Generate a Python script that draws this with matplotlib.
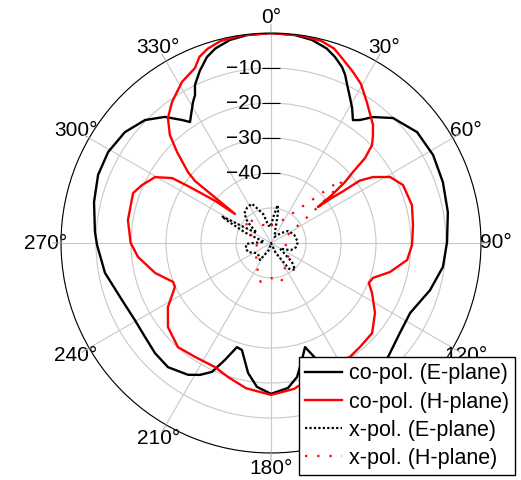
import numpy as np
import matplotlib.pyplot as plt

plt.rcParams['font.family'] = ['Liberation Sans', 'DejaVu Sans']

# co-polar, E-plane (deg, dB)
e_co_theta = [0, 6.6, 11.4, 16, 19, 22, 23.8, 25.5, 28.6, 31, 33.7, 35.9, 39.0, 44.3,
              52.8, 61.5, 70.5, 80.1, 89.7, 97.9, 106.5, 116.7, 124.9, 134.3, 140, 148,
              152, 155.4, 158.5, 161.9, 165.2, 169, 173.3, 180, 185.6, 190, 195.2, 198.1,
              201.5, 204.6, 208.3, 212.2, 219.7, 226.5, 233.3, 240.5, 249.1, 259.8,
              269.3, 273.6, 283.0, 291.5, 299.2, 307.2, 314.3, 319.9, 324.1, 326.2,
              331.0, 332.8, 334.3, 337.5, 341, 344, 348.6, 353.4, 360]
e_co_db = [0, -0.2, -0.8, -2.2, -3.8, -5.8, -7.5, -9.6, -12.8, -15, -17.8, -16.6, -13.7, -10.1,
           -7.6, -7.3, -7.9, -8.7, -9.7, -10.4, -12.6, -15.5, -15.1, -13.3, -13.9, -15.5,
           -17.2, -19.5, -24.1, -28.7, -25.4, -21, -18.3, -16.9, -18.7, -22.3, -28.3, -28.7,
           -24.1, -19.5, -17.2, -15.5, -13.9, -14.3, -15.1, -15.3, -14.4, -11.8,
           -10.3, -9.6, -8.1, -6.9, -6.7, -7.6, -9.7, -12.9, -16.6, -18.4,
           -14.0, -12.5, -9.9, -6.8, -3.8, -2.2, -0.8, -0.2, 0]

# co-polar, H-plane (deg, dB)
h_co_theta = [0, 8, 14, 18, 21, 25.6, 29.5, 34.2, 40.8, 43.5, 45.9, 47.9, 49.1, 50.5,
              51.8, 52.5, 53.5, 54.3, 54.9, 57.1, 61.0, 66.3, 74.9, 82.8, 90.8, 97.1,
              103.7, 108.9, 112.2, 116.3, 123.9, 131.7, 139.4, 145.3, 153, 160, 166,
              171, 180, 189.8, 197.8, 204.3, 213.5, 221.8, 230.8, 238.1, 245.4, 248.3,
              255.5, 264, 270, 279.1, 289.9, 294.2, 299.6, 303.3, 304.5, 305.5, 307,
              308.9, 309.1, 309.2, 310.5, 314.1, 316.9, 320.5, 324.9, 331.1, 336.5,
              339, 342, 346, 352, 360]
h_co_db = [0, -0.1, -0.5, -1.6, -3.4, -5.8, -7.8, -11.3, -15.4, -17.7, -19.8, -23.8, -29.0, -32.6,
           -38, -43.1, -38, -34.8, -29, -25.3, -21.1, -18.8, -18.3, -19.1, -19.7, -20.8,
           -25.0, -29.2, -29.8, -27.8, -24.2, -21.3, -20.9, -20.4, -21.1, -20.5, -19.2,
           -17.8, -16.6, -17.9, -19.8, -21.1, -20.9, -20.1, -22.0, -25.3, -29.8, -29.9,
           -25.8, -21.8, -19.9, -18.6, -18.1, -19.6, -21.9, -26.2, -31.5, -35.5, -40,
           -46.8, -40, -32, -28.8, -22.6, -17.7, -13.7, -10.8, -7.4, -5.5,
           -3.0, -1.6, -0.5, -0.1, 0]

# cross-polar, E-plane (deg, dB)
e_x_theta = [0, 6, 10, 13, 18, 30, 45, 55, 70, 88, 100, 110, 122, 132, 138, 145, 155,
             175, 195, 213, 225, 235, 248, 258, 268, 280, 292, 297, 298.5, 300, 305,
             312, 318, 326, 334, 340, 345, 352, 360]
e_x_db = [-55, -52, -49, -51, -56, -58, -56, -54, -53, -52.3, -52.8, -54, -57, -52, -49.7, -51, -57,
          -60, -58, -54.2, -55, -55, -53, -52.6, -53, -58, -52, -46, -44, -50, -55,
          -51, -48.6, -47.8, -47.5, -50, -51.5, -55, -55]

# cross-polar, H-plane (deg, dB)
h_x_theta = [0, 20, 35, 42, 47, 49, 51, 55, 65, 90, 120, 150, 165, 180, 195, 210,
             240, 270, 300, 315, 330, 360]
h_x_db = [-55, -54, -50, -45, -36, -33, -38, -48, -55, -56, -54, -52, -48.5, -50, -48.5, -52,
          -55, -56, -52, -50, -54, -55]

r_ticks = [-50, -40, -30, -20, -10, 0]
r_labels = [-40, -30, -20, -10]
theta_ticks = list(range(0, 360, 30))

fig = plt.figure(figsize=(5.21, 4.80), dpi=100)
ax = fig.add_axes([0.1171, 0.05625, 0.8061, 0.875], projection='polar')
ax.set_theta_zero_location('N')
ax.set_theta_direction(-1)
ax.set_ylim(-60, 0)
ax.set_yticks(r_ticks)
ax.set_yticklabels([])
ax.set_xticks(np.deg2rad(theta_ticks))
ax.set_xticklabels([f'{t}°' for t in theta_ticks], fontsize=15)
ax.tick_params(axis='x', direction='out', length=7, width=0.8, color='#b0b0b0', pad=-3)
ax.grid(True, color='#c8c8c8', linewidth=0.8)
ax.spines['polar'].set_linewidth(0.8)

# short outward angular tick marks continuing the spokes
for t in theta_ticks:
    a = np.deg2rad(t)
    ax.annotate('', xy=(a, 0), xytext=(6 * np.sin(a), 6 * np.cos(a)),
                textcoords='offset points', annotation_clip=False,
                arrowprops=dict(arrowstyle='-', color='#b0b0b0', lw=0.8,
                                shrinkA=0, shrinkB=0))

ax.plot(np.deg2rad(e_co_theta), e_co_db, color='black', lw=1.7, label='co-pol. (E-plane)')
ax.plot(np.deg2rad(h_co_theta), h_co_db, color='red', lw=1.7, label='co-pol. (H-plane)')
ax.plot(np.deg2rad(e_x_theta), e_x_db, color='black', lw=1.6, linestyle=(0, (1, 1)),
        label='x-pol. (E-plane)')
ax.plot(np.deg2rad(h_x_theta), h_x_db, color='red', lw=1.6, linestyle=(0, (1, 4.5)),
        label='x-pol. (H-plane)')

# radial labels with small tick marks on the 0° spoke
for r in r_labels:
    ax.plot(0, r, marker='_', ms=13, mew=0.8, color='black', clip_on=False)
    ax.annotate(f'\u2212{abs(r)}', xy=(0, r), xytext=(-7, 0), textcoords='offset points',
                ha='right', va='center', fontsize=15)

handles, labels = ax.get_legend_handles_labels()
leg = fig.legend(handles, labels, loc='upper left', bbox_to_anchor=(299 / 521, 1 - 357 / 480),
                 borderaxespad=0, fontsize=15.5, fancybox=False, framealpha=1,
                 edgecolor='black', handlelength=1.7, handletextpad=0.3,
                 borderpad=0.3, labelspacing=0.33)
leg.get_frame().set_linewidth(1.0)

fig.savefig('out.png', dpi=100)
